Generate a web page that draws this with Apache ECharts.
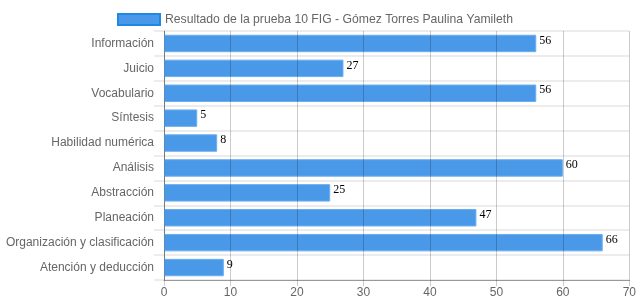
<!DOCTYPE html>
<html><head><meta charset="utf-8">
<script src="https://cdn.jsdelivr.net/npm/echarts@6/dist/echarts.min.js"></script>
<style>html,body{margin:0;padding:0;background:#fff}#c{width:639px;height:308px}</style>
</head><body><div id="c"></div>
<script>
const categories = ["Información","Juicio","Vocabulario","Síntesis","Habilidad numérica","Análisis","Abstracción","Planeación","Organización y clasificación","Atención y deducción"];
const values = [56,27,56,5,8,60,25,47,66,9];
const seriesName = "Resultado de la prueba 10 FIG - Gómez Torres Paulina Yamileth";
const xTicks = {min:0,max:70,interval:10};

const chart = echarts.init(document.getElementById('c'));
chart.setOption({
  animation:false,
  textStyle:{fontFamily:'Liberation Sans, Arial, sans-serif'},
  legend:{top:8,left:112,itemWidth:42,itemHeight:11,itemGap:8,
    textStyle:{color:'#666',fontSize:12.2},
    data:[{name:seriesName,icon:'rect',itemStyle:{color:'#4a98e8',borderColor:'#1e88e5',borderWidth:2}}]},
  grid:{left:164,right:9,top:31,bottom:28},
  xAxis:{type:'value',min:xTicks.min,max:xTicks.max,interval:xTicks.interval,z:5,
    axisLine:{show:true,lineStyle:{color:'#999'}},
    axisTick:{show:true,length:6,lineStyle:{color:'rgba(0,0,0,0.2)'}},
    axisLabel:{color:'#666',fontSize:12,margin:7},
    splitLine:{show:true,lineStyle:{color:'rgba(0,0,0,0.2)',width:1}}},
  yAxis:{type:'category',inverse:true,data:categories,
    axisLine:{show:true,lineStyle:{color:'#999'}},
    axisTick:{show:true,length:10,lineStyle:{color:'#ececec',width:2}},
    axisLabel:{color:'#666',fontSize:12,margin:10},
    splitLine:{show:true,lineStyle:{color:'#ececec',width:2}}},
  series:[{name:seriesName,type:'bar',data:values,barCategoryGap:'30%',
    itemStyle:{color:'#4a98e8',borderColor:'#6aaef0',borderWidth:1},
    label:{show:true,position:'right',distance:3,offset:[0,-3],color:'#000',fontSize:12,fontFamily:'Liberation Serif, Times New Roman, serif'}}]
});
</script></body></html>
